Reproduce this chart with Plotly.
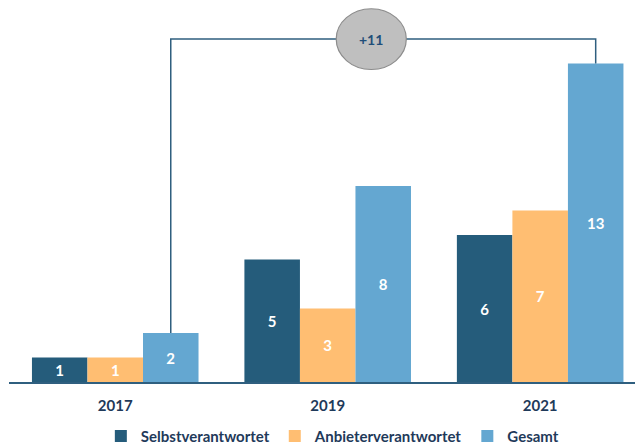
import plotly.graph_objects as go

years = ["2017", "2019", "2021"]
selbst = [1, 5, 6]
anbieter = [1, 3, 7]
gesamt = [2, 8, 13]
series_names = ["Selbstverantwortet", "Anbieterverantwortet", "Gesamt"]
colors = ["#255C7B", "#FFBE72", "#64A7D1"]
delta_label = "+11"

xpos = list(range(len(years)))
FONT = "Lato, Open Sans, sans-serif"
bargap = 0.216
bw = (1 - bargap) / 3

fig = go.Figure()
for name, vals, c in zip(series_names, [selbst, anbieter, gesamt], colors):
    fig.add_trace(go.Bar(
        x=xpos, y=vals, name=name, marker=dict(color=c, line=dict(width=0)),
        text=[str(v) for v in vals], textposition="inside", insidetextanchor="middle",
        textfont=dict(color="white", size=15, family=FONT, weight="bold"),
        hoverinfo="skip",
    ))

# connector from 2017 Gesamt to 2021 Gesamt
top = 14.0
x0 = xpos[0] + bw
x1 = xpos[-1] + bw
fig.add_trace(go.Scatter(
    x=[x0, x0, x1, x1], y=[gesamt[0], top, top, gesamt[-1]],
    mode="lines", line=dict(color="#2F5F7F", width=1.5),
    showlegend=False, hoverinfo="skip",
))
cx = 1.205
fig.add_shape(type="circle", xref="x", yref="y",
              x0=cx - 0.165, x1=cx + 0.165, y0=top - 1.24, y1=top + 1.24,
              fillcolor="#BFBFBF", line=dict(color="#8C8C8C", width=1.2), layer="above")
fig.add_annotation(x=cx, y=top, text="<b>" + delta_label + "</b>", showarrow=False,
                   font=dict(color="#1F4E79", size=14, family=FONT))

fig.update_layout(
    width=635, height=437,
    margin=dict(l=1, r=0, t=0, b=63, autoexpand=False),
    paper_bgcolor="white", plot_bgcolor="white",
    barmode="group", bargap=bargap, bargroupgap=0,
    showlegend=True,
    legend=dict(orientation="h", x=0.51, xanchor="center",
                yref="container", y=0.02, yanchor="middle",
                font=dict(size=15, family=FONT, color="#1F3A5A", weight="bold"),
                itemclick=False, traceorder="normal"),
    xaxis=dict(tickvals=xpos, ticktext=years, range=[-0.5, 2.484],
               showline=True, linecolor="#2F5F7F", linewidth=1.5, automargin=False,
               showgrid=False, zeroline=False, ticks="", ticklabelstandoff=9,
               tickfont=dict(size=15, family=FONT, color="#1F3A5A", weight="bold")),
    yaxis=dict(range=[0, 15.27], visible=False, showgrid=False, zeroline=False),
)

fig.write_html("out.html")
